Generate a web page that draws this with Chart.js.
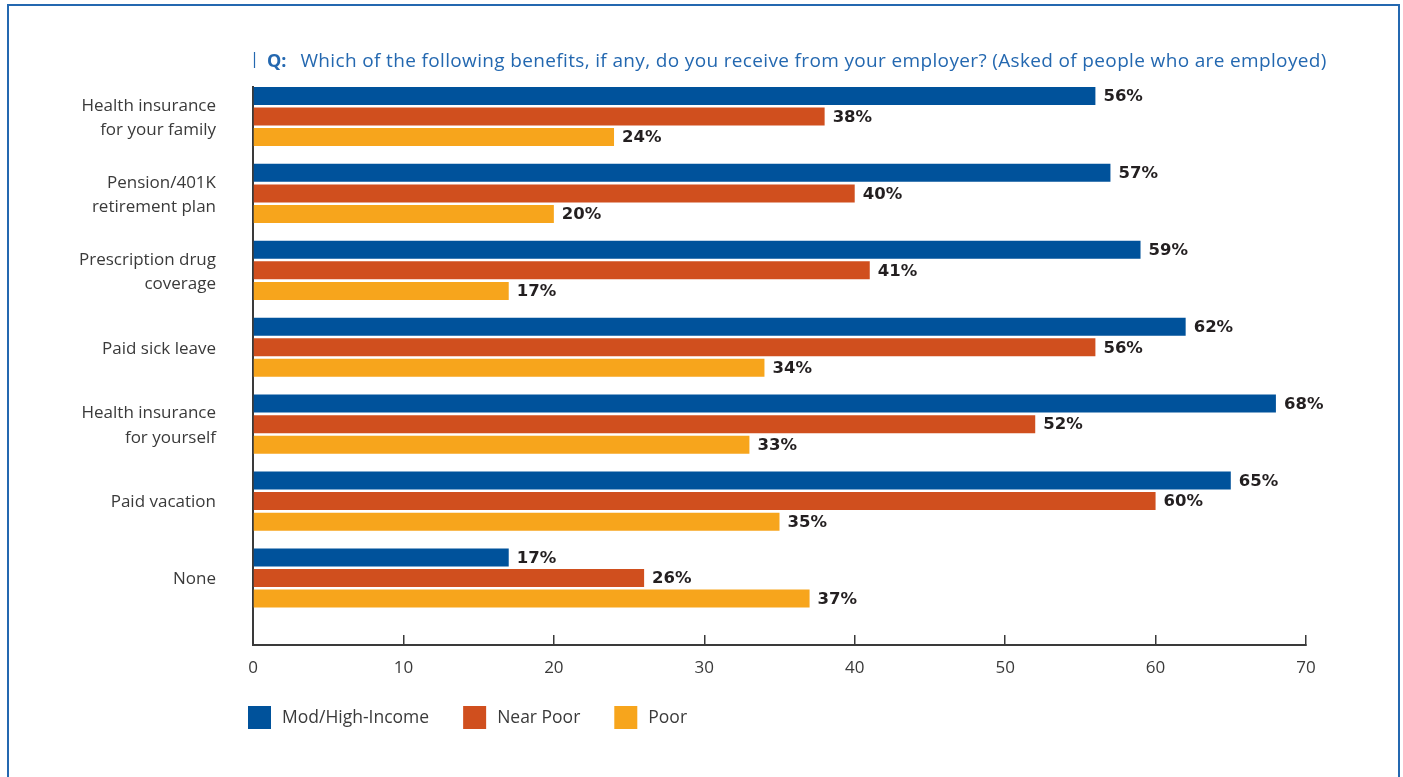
<!DOCTYPE html>
<html>
<head>
<meta charset="utf-8">
<title>Employer benefits by income group</title>
<script src="https://cdn.jsdelivr.net/npm/chart.js@4.4.0/dist/chart.umd.min.js"></script>
<style>
    html, body { margin: 0; padding: 0; background: #fff; overflow: hidden; }
    .frame {
        position: absolute; left: 7px; top: 4px;
        width: 1389px; height: 820px;
        border: 2px solid #2468b0;
    }
    #benefits-chart { position: absolute; left: 0; top: 0; }
</style>
</head>
<body>
<div class="frame"></div>
<canvas id="benefits-chart" width="1403" height="777"></canvas>
<script>
// Benefits received from employer, by income group (percent)
const categories = [
    ['Health insurance', 'for your family'],
    ['Pension/401K', 'retirement plan'],
    ['Prescription drug', 'coverage'],
    'Paid sick leave',
    ['Health insurance', 'for yourself'],
    'Paid vacation',
    'None'
];
const modHighIncome = [56, 57, 59, 62, 68, 65, 17];
const nearPoor = [38, 40, 41, 56, 52, 60, 26];
const poor = [24, 20, 17, 34, 33, 35, 37];
const seriesNames = ['Mod/High-Income', 'Near Poor', 'Poor'];
const seriesColors = ['#00529b', '#d04f1e', '#f7a51c'];
const xTicks = [0, 10, 20, 30, 40, 50, 60, 70];
const questionLead = 'Q:';
const questionText = 'Which of the following benefits, if any, do you receive from your employer? (Asked of people who are employed)';

const textColor = '#3a3a3a';
const labelFont = '"Open Sans", "Noto Sans", sans-serif';

// Turn a series into {x, y} points on the numeric category axis
function toPoints(values) {
    return values.map((v, i) => ({ x: v, y: i }));
}

// Percent labels just past the end of each bar
const barValueLabels = {
    id: 'barValueLabels',
    afterDatasetsDraw(chart) {
        const ctx = chart.ctx;
        ctx.save();
        ctx.font = 'bold 16.5px "DejaVu Sans", sans-serif';
        ctx.fillStyle = '#231f20';
        ctx.textAlign = 'left';
        ctx.textBaseline = 'middle';
        chart.data.datasets.forEach((ds, di) => {
            const meta = chart.getDatasetMeta(di);
            meta.data.forEach((bar, i) => {
                ctx.fillText(ds.data[i].x + '%', bar.x + 8, bar.y + 1);
            });
        });
        ctx.restore();
    }
};

// Question line above the plot
const questionHeader = {
    id: 'questionHeader',
    afterDraw(chart) {
        const ctx = chart.ctx;
        const left = chart.chartArea.left;
        const baseline = chart.chartArea.top - 20;
        ctx.save();
        ctx.strokeStyle = '#2468b0';
        ctx.lineWidth = 1.2;
        ctx.beginPath();
        ctx.moveTo(left + 1.5, baseline - 15);
        ctx.lineTo(left + 1.5, baseline + 1);
        ctx.stroke();

        ctx.fillStyle = '#2468b0';
        ctx.textBaseline = 'alphabetic';
        ctx.font = 'bold 18px ' + labelFont;
        ctx.fillText(questionLead, left + 14, baseline);
        const leadWidth = ctx.measureText(questionLead).width;
        ctx.font = '19px ' + labelFont;
        ctx.letterSpacing = '0.35px';
        ctx.fillText(questionText, left + 14 + leadWidth + 14, baseline);
        ctx.restore();
    }
};

// Series key under the axis
const seriesKey = {
    id: 'seriesKey',
    afterDraw(chart) {
        const ctx = chart.ctx;
        let x = chart.chartArea.left - 5;
        const top = chart.chartArea.bottom + 61;
        const box = 23;
        ctx.save();
        ctx.font = '17.5px ' + labelFont;
        ctx.textBaseline = 'middle';
        chart.data.datasets.forEach(ds => {
            ctx.fillStyle = ds.backgroundColor;
            ctx.fillRect(x, top, box, box);
            ctx.fillStyle = textColor;
            ctx.fillText(ds.label, x + box + 11, top + box / 2 + 1);
            x += box + 11 + ctx.measureText(ds.label).width + 34;
        });
        ctx.restore();
    }
};

const seriesValues = [modHighIncome, nearPoor, poor];

new Chart(document.getElementById('benefits-chart').getContext('2d'), {
    type: 'bar',
    data: {
        datasets: seriesValues.map((values, i) => ({
            label: seriesNames[i],
            data: toPoints(values),
            backgroundColor: seriesColors[i],
            borderWidth: 0,
            categoryPercentage: 0.803,
            barPercentage: 0.874
        }))
    },
    options: {
        indexAxis: 'y',
        responsive: false,
        animation: false,
        layout: {
            padding: { top: 87, right: 97, bottom: 92, left: 0 }
        },
        plugins: {
            legend: { display: false },
            tooltip: { enabled: false }
        },
        scales: {
            x: {
                type: 'linear',
                min: 0,
                max: 70,
                afterBuildTicks: scale => { scale.ticks = xTicks.map(v => ({ value: v })); },
                afterFit: scale => { scale.height = 40; },
                grid: {
                    drawOnChartArea: false,
                    drawTicks: true,
                    tickLength: -10,
                    color: textColor,
                    lineWidth: 1.5
                },
                border: { color: textColor, width: 2 },
                ticks: {
                    padding: 23,
                    color: textColor,
                    font: { family: labelFont, size: 17 }
                }
            },
            y: {
                type: 'linear',
                reverse: true,
                offset: false,
                min: -0.384,
                max: 6.871,
                afterBuildTicks: scale => { scale.ticks = categories.map((c, i) => ({ value: i + 0.02 })); },
                afterFit: scale => { scale.width = 253; },
                grid: { drawOnChartArea: false, drawTicks: false, offset: false },
                border: { color: textColor, width: 2 },
                ticks: {
                    callback: value => categories[Math.round(value)],
                    padding: 37,
                    color: textColor,
                    font: { family: labelFont, size: 17, lineHeight: 1.42 }
                }
            }
        }
    },
    plugins: [barValueLabels, questionHeader, seriesKey]
});
</script>
</body>
</html>
